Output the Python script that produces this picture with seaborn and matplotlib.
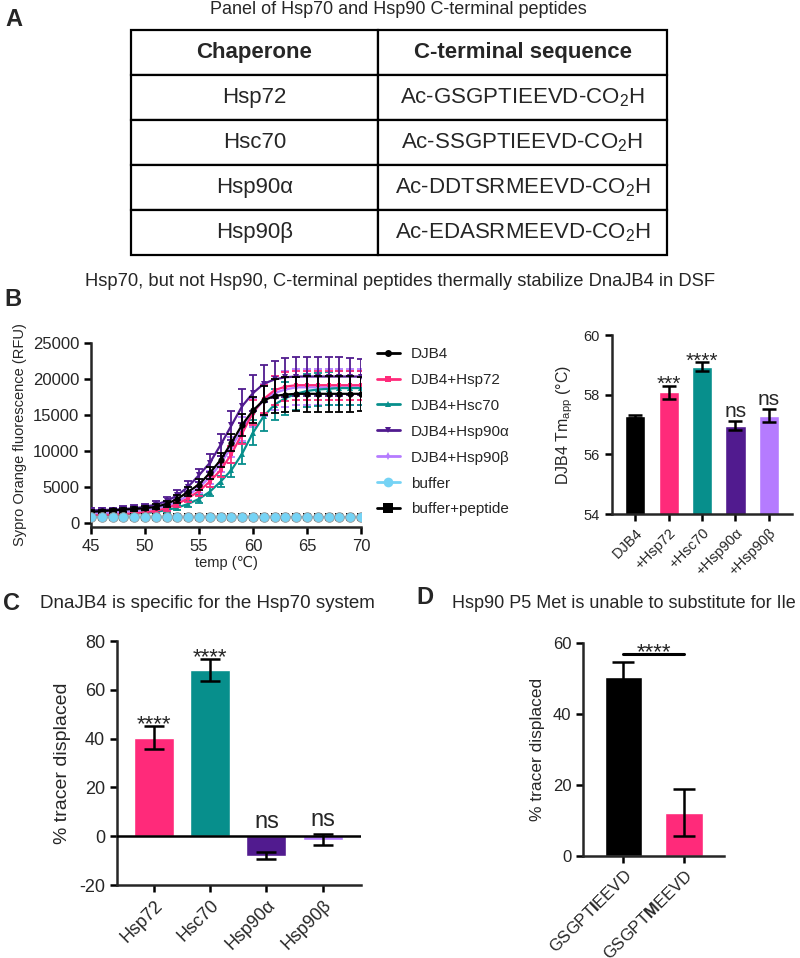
import numpy as np
import pandas as pd
import matplotlib
matplotlib.use("Agg")
import matplotlib.pyplot as plt
from matplotlib.lines import Line2D
import seaborn as sns

# ---------------- data ----------------
table_header = ["Chaperone", "C-terminal sequence"]
chaperones = ["Hsp72", "Hsc70", "Hsp90α", "Hsp90β"]
sequences = ["Ac-GSGPTIEEVD-CO$_2$H", "Ac-SSGPTIEEVD-CO$_2$H",
             "Ac-DDTSRMEEVD-CO$_2$H", "Ac-EDASRMEEVD-CO$_2$H"]

temps = [45, 46, 47, 48, 49, 50, 51, 52, 53, 54, 55, 56, 57,
         58, 59, 60, 61, 62, 63, 64, 65, 66, 67, 68, 69, 70]

djb4 = [1500, 1600, 1700, 1800, 1900, 2000, 2200, 2600, 3300, 4300, 5300, 6900, 8700,
        11100, 13600, 15600, 17000, 17600, 17800, 17900, 17900, 17900, 17900, 17900, 17900, 17900]
djb4_err = [200, 200, 250, 250, 300, 300, 350, 400, 500, 600, 700, 800, 1000,
            1200, 1500, 1800, 2000, 2300, 2400, 2400, 2500, 2500, 2500, 2500, 2500, 2400]

hsp72 = [1000, 1050, 1100, 1200, 1300, 1450, 1650, 2000, 2600, 3400, 4400, 5700, 7300,
         9500, 12400, 15300, 17200, 18400, 18900, 19100, 19100, 19100, 19100, 19100, 19100, 19100]
hsp72_err = [200, 200, 200, 250, 250, 300, 350, 400, 450, 550, 650, 800, 1000,
             1200, 1500, 1700, 1900, 2000, 2000, 2000, 2000, 2000, 2000, 2000, 2000, 2000]

hsc70 = [1000, 1050, 1100, 1150, 1250, 1350, 1500, 1750, 2100, 2600, 3300, 4300, 5700,
         7300, 9600, 12500, 14800, 16400, 17300, 17900, 18300, 18500, 18600, 18700, 18700, 18700]
hsc70_err = [200, 200, 200, 200, 250, 250, 300, 300, 350, 400, 500, 600, 800,
             1000, 1400, 1700, 2000, 2200, 2300, 2300, 2300, 2300, 2300, 2300, 2300, 2300]

hsp90a = [1700, 1750, 1800, 1900, 2000, 2200, 2500, 3000, 3800, 5000, 6600, 8300, 10800,
          13500, 16200, 18000, 19300, 19900, 20200, 20300, 20300, 20300, 20300, 20300, 20300, 20300]
hsp90a_err = [300, 300, 300, 350, 400, 450, 500, 600, 700, 800, 900, 1200, 1500,
              2000, 2300, 2500, 2600, 2600, 2700, 2700, 2700, 2700, 2700, 2700, 2600, 2500]

hsp90b = [1300, 1350, 1400, 1500, 1600, 1750, 1950, 2300, 2900, 3800, 4900, 6300, 8200,
          10500, 13000, 15300, 17000, 18000, 18500, 18800, 18800, 18800, 18800, 18800, 18800, 18800]
hsp90b_err = [250, 250, 250, 300, 300, 350, 400, 450, 550, 650, 750, 900, 1100,
              1400, 1700, 2000, 2200, 2400, 2500, 2500, 2500, 2500, 2500, 2500, 2500, 2500]

buffer = [780, 770, 790, 780, 800, 790, 780, 790, 800, 780, 790, 800, 790,
          780, 790, 800, 790, 780, 770, 760, 770, 760, 770, 760, 770, 780]
buffer_pep = [800, 790, 810, 800, 810, 800, 810, 800, 810, 800, 810, 800, 810,
              800, 810, 800, 810, 800, 790, 780, 790, 780, 790, 780, 790, 800]

tm_labels = ["DJB4", "+Hsp72", "+Hsc70", "+Hsp90α", "+Hsp90β"]
tm_values = [57.27, 58.08, 58.93, 56.96, 57.30]
tm_err = [0.04, 0.21, 0.15, 0.16, 0.22]
tm_sig = ["", "***", "****", "ns", "ns"]

fp_labels = ["Hsp72", "Hsc70", "Hsp90α", "Hsp90β"]
fp_values = [40.4, 68.1, -8.0, -1.5]
fp_err = [4.8, 4.5, 1.5, 2.3]
fp_sig = ["****", "****", "ns", "ns"]

pep_labels = ["GSGPT$\\mathbf{I}$EEVD", "GSGPT$\\mathbf{M}$EEVD"]
pep_values = [50.6, 12.2]
pep_err = [4.0, 6.7]

BLACK = "#000000"
PINK = "#FF2A7A"
TEAL = "#078F8C"
PURPLE = "#511B8F"
LILAC = "#B57BFF"
SKY = "#75D3F5"

# ---------------- style ----------------
sns.set_style("ticks")
plt.rcParams["font.family"] = ["Liberation Sans", "DejaVu Sans"]
plt.rcParams["mathtext.fontset"] = "custom"
plt.rcParams["mathtext.rm"] = "Liberation Sans"
plt.rcParams["mathtext.it"] = "Liberation Sans:italic"
plt.rcParams["mathtext.bf"] = "Liberation Sans:bold"
plt.rcParams["axes.unicode_minus"] = False

SPINE = 1.8

fig = plt.figure(figsize=(8, 9.58), dpi=100)
W, H = 800, 958


def px_axes(left, top, right, bottom):
    return fig.add_axes([left / W, 1 - bottom / H, (right - left) / W, (bottom - top) / H])


def style_axes(ax, labelsize):
    sns.despine(ax=ax)
    for s in ["left", "bottom"]:
        ax.spines[s].set_linewidth(SPINE)
    ax.tick_params(width=SPINE, length=5, labelsize=labelsize, color="black")


def fig_text(x, y, s, **kw):
    fig.text(x / W, 1 - y / H, s, **kw)


# ---------------- panel A: table ----------------
fig_text(5, 20, "A", fontsize=17, fontweight="bold", va="center")
fig_text(398, 10, "Panel of Hsp70 and Hsp90 C-terminal peptides", fontsize=13,
         ha="center", va="center")

ax_t = px_axes(130.7, 30, 666.7, 255)
ax_t.axis("off")
rows = [[c, s] for c, s in zip(chaperones, sequences)]
tbl = ax_t.table(cellText=rows, colLabels=table_header, cellLoc="center",
                 colWidths=[247.6 / 536, 288.4 / 536], bbox=[0, 0, 1, 1])
tbl.auto_set_font_size(False)
for (r, c), cell in tbl.get_celld().items():
    cell.set_linewidth(1.6)
    cell.set_edgecolor("black")
    cell.get_text().set_fontsize(16)
    if r == 0:
        cell.get_text().set_fontweight("bold")

# ---------------- panel B: DSF curves ----------------
fig_text(4, 300, "B", fontsize=17, fontweight="bold", va="center")
fig_text(400, 281, "Hsp70, but not Hsp90, C-terminal peptides thermally stabilize DnaJB4 in DSF",
         fontsize=13.2, ha="center", va="center")

ax_c = px_axes(91, 342.7, 361, 526.7)
series = [
    ("DJB4+Hsp90β", hsp90b, hsp90b_err, LILAC, "d", 3.5, 2),
    ("DJB4+Hsc70", hsc70, hsc70_err, TEAL, "^", 4, 3),
    ("DJB4+Hsp72", hsp72, hsp72_err, PINK, "s", 3.5, 4),
    ("DJB4+Hsp90α", hsp90a, hsp90a_err, PURPLE, "v", 4, 5),
    ("DJB4", djb4, djb4_err, BLACK, "o", 4.5, 6),
]
for name, vals, errs, col, mk, ms, z in series:
    sns.lineplot(x=temps, y=vals, ax=ax_c, color=col, marker=mk, markersize=ms,
                 markeredgewidth=0, linewidth=1.6, zorder=z)
    ax_c.errorbar(temps, vals, yerr=errs, fmt="none", ecolor=col, elinewidth=1.3,
                  capsize=2.6, capthick=1.3, zorder=z)
sns.lineplot(x=temps, y=buffer_pep, ax=ax_c, color=BLACK, marker="s", markersize=6,
             markeredgewidth=0, linewidth=1.5, zorder=7)
sns.lineplot(x=temps, y=buffer, ax=ax_c, color=SKY, marker="o", markersize=7,
             markeredgewidth=0.6, markeredgecolor="#9a9a9a", linewidth=1.5, zorder=8)
ax_c.set_xlim(45, 70)
ax_c.set_ylim(-560, 25000)
ax_c.set_xticks([45, 50, 55, 60, 65, 70])
ax_c.set_yticks([0, 5000, 10000, 15000, 20000, 25000])
ax_c.set_xlabel("temp (℃)", fontsize=10.5, labelpad=2)
ax_c.set_ylabel("Sypro Orange fluorescence (RFU)", fontsize=10.5, labelpad=4)
style_axes(ax_c, 12)

legend_items = [
    ("DJB4", BLACK, "o", 5),
    ("DJB4+Hsp72", PINK, "s", 4.5),
    ("DJB4+Hsc70", TEAL, "^", 5),
    ("DJB4+Hsp90α", PURPLE, "v", 5),
    ("DJB4+Hsp90β", LILAC, "d", 4),
    ("buffer", SKY, "o", 7),
    ("buffer+peptide", BLACK, "s", 6.5),
]
handles = [Line2D([], [], color=c, marker=m, markersize=ms, linewidth=2, markeredgewidth=0)
           for _, c, m, ms in legend_items]
fig.legend(handles, [n for n, _, _, _ in legend_items], loc="upper left",
           bbox_to_anchor=(377 / W, 1 - 347 / H), frameon=False, fontsize=11,
           handlelength=1.5, handletextpad=0.7, labelspacing=0.78, borderpad=0,
           borderaxespad=0)

# ---------------- panel B: Tm bars ----------------
ax_b = px_axes(611.7, 335, 791.7, 514)
sns.barplot(x=tm_labels, y=tm_values, hue=tm_labels, palette=[BLACK, PINK, TEAL, PURPLE, LILAC],
            width=0.6, saturation=1, legend=False, ax=ax_b)
ax_b.errorbar(range(len(tm_values)), tm_values, yerr=tm_err, fmt="none", ecolor="black",
              elinewidth=1.8, capsize=5, capthick=1.8)
for i, (v, e, s) in enumerate(zip(tm_values, tm_err, tm_sig)):
    if not s:
        continue
    dy = -3 if s.startswith("*") else 3
    ax_b.annotate(s, xy=(i, v + e), xytext=(0, dy), textcoords="offset points",
                  ha="center", va="baseline", fontsize=15)
ax_b.set_ylim(54, 60)
ax_b.set_xlim(-0.7, 4.68)
ax_b.set_yticks([54, 56, 58, 60])
ax_b.set_ylabel("DJB4 Tm$_{\\mathrm{app}}$ (°C)", fontsize=11.5, labelpad=6)
style_axes(ax_b, 10.5)
ax_b.set_xticks(range(len(tm_labels)))
ax_b.set_xticklabels(tm_labels, rotation=45, ha="right", rotation_mode="anchor", fontsize=10.5)

# ---------------- panel C ----------------
fig_text(3, 603, "C", fontsize=17, fontweight="bold", va="center")
fig_text(40, 603, "DnaJB4 is specific for the Hsp70 system", fontsize=13.5, va="center")

ax_fp = px_axes(116.7, 641, 361, 885)
sns.barplot(x=fp_labels, y=fp_values, hue=fp_labels, palette=[PINK, TEAL, PURPLE, LILAC],
            width=0.71, saturation=1, legend=False, ax=ax_fp)
ax_fp.errorbar(range(len(fp_values)), fp_values, yerr=fp_err, fmt="none", ecolor="black",
               elinewidth=1.8, capsize=7, capthick=1.8, zorder=5)
ax_fp.axhline(0, color="black", linewidth=SPINE, zorder=4)
for i, (v, e, s) in enumerate(zip(fp_values, fp_err, fp_sig)):
    top = max(0, v + e)
    if s.startswith("*"):
        ax_fp.annotate(s, xy=(i, top), xytext=(0, -3), textcoords="offset points",
                       ha="center", va="baseline", fontsize=16)
    else:
        ax_fp.annotate(s, xy=(i, top), xytext=(0, 6), textcoords="offset points",
                       ha="center", va="baseline", fontsize=17)
ax_fp.set_ylim(-20, 80)
ax_fp.set_xlim(-0.66, 3.68)
ax_fp.set_yticks([-20, 0, 20, 40, 60, 80])
ax_fp.set_ylabel("% tracer displaced", fontsize=14, labelpad=6)
style_axes(ax_fp, 13)
ax_fp.set_xticks(range(len(fp_labels)))
ax_fp.set_xticklabels(fp_labels, rotation=45, ha="right", rotation_mode="anchor", fontsize=13)

# ---------------- panel D ----------------
fig_text(416, 597, "D", fontsize=17, fontweight="bold", va="center")
fig_text(452, 604, "Hsp90 P5 Met is unable to substitute for Ile", fontsize=13, va="center")

ax_d = px_axes(583.3, 643.3, 724.3, 855.7)
sns.barplot(x=pep_labels, y=pep_values, hue=pep_labels, palette=[BLACK, PINK],
            width=0.62, saturation=1, legend=False, ax=ax_d)
ax_d.errorbar(range(len(pep_values)), pep_values, yerr=pep_err, fmt="none", ecolor="black",
              elinewidth=1.8, capsize=8, capthick=1.8, zorder=5)
bracket_y = max(v + e for v, e in zip(pep_values, pep_err)) + 2.4
ax_d.plot([0, 1], [bracket_y, bracket_y], color="black", linewidth=2.2, clip_on=False)
ax_d.annotate("****", xy=(0.5, bracket_y), xytext=(0, -3), textcoords="offset points",
              ha="center", va="baseline", fontsize=16)
ax_d.set_ylim(0, 60)
ax_d.set_xlim(-0.66, 1.66)
ax_d.set_yticks([0, 20, 40, 60])
ax_d.set_ylabel("% tracer displaced", fontsize=12.5, labelpad=6)
style_axes(ax_d, 12)
ax_d.set_xticks(range(len(pep_labels)))
ax_d.set_xticklabels(pep_labels, rotation=45, ha="right", rotation_mode="anchor", fontsize=12)

fig.savefig("out.png", dpi=100)
